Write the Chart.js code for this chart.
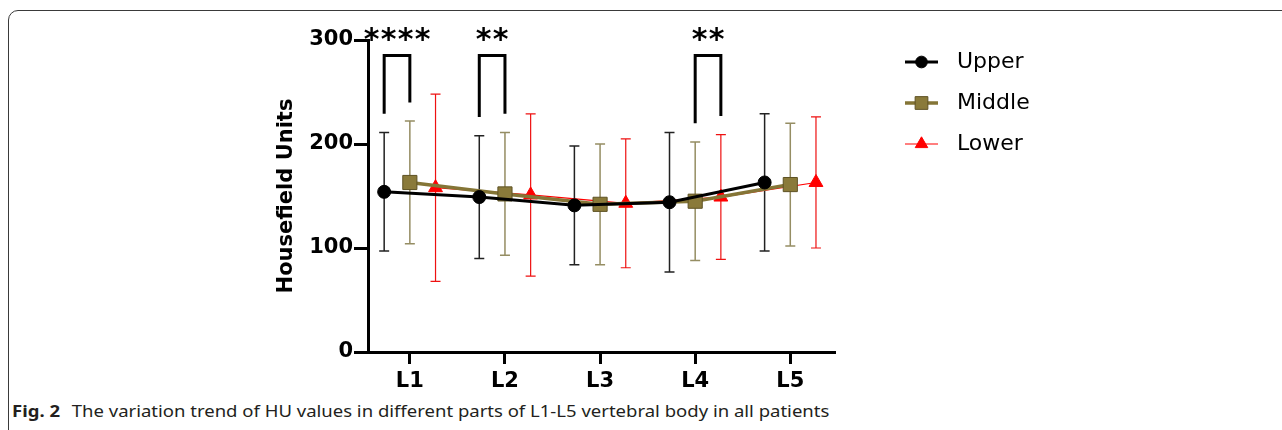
<!DOCTYPE html>
<html>
<head>
<meta charset="utf-8">
<script src="https://cdn.jsdelivr.net/npm/chart.js@4.4.1/dist/chart.umd.min.js"></script>
<style>
  html, body { margin: 0; padding: 0; background: #fff; }
  body { width: 1282px; height: 430px; position: relative; overflow: hidden; }
  #frame { position: absolute; left: 8px; top: 10px; width: 1300px; height: 440px; border: 1px solid #3a3a3a; border-radius: 10px; }
  #chart { position: absolute; left: 0; top: 0; }
  #caption { position: absolute; left: 12px; top: 400px; font-family: "Noto Sans", sans-serif; font-size: 16px; color: #231f20; white-space: nowrap; transform: scaleX(1.157); transform-origin: left center; }
  #caption b { margin-right: 6px; }
</style>
</head>
<body>
<div id="frame"></div>
<canvas id="chart" width="1282" height="400"></canvas>
<div id="caption"><b>Fig. 2</b> The variation trend of HU values in different parts of L1-L5 vertebral body in all patients</div>
<script>
// --- valeurs (moyenne ± écart-type) ---
const vertebrae = ['L1', 'L2', 'L3', 'L4', 'L5'];
const seriesNames = ['Upper', 'Middle', 'Lower'];
const upperMean = [154, 149, 141, 144, 163];
const upperSD = [57, 59, 57, 67, 66];
const middleMean = [163, 152, 142, 145, 161];
const middleSD = [59, 59, 58, 57, 59];
const lowerMean = [158, 151, 143, 149, 163];
const lowerSD = [90, 78, 62, 60, 63];
const yTicks = [0, 100, 200, 300];

// crochets de significativité : vertèbre, groupes comparés, étoiles
const sigCat = [0, 1, 3];
const sigFrom = [0, 0, 1];
const sigTo = [1, 1, 2];
const sigText = ['****', '**', '**'];
const sigTop = 285;

// --- style ---
const FONT = '"DejaVu Sans", sans-serif';
const dodge = [-0.27, 0, 0.27];
const legendX = 905, legendY = 62, legendRow = 41, legendLine = 33, legendTextX = 957;

const toPoints = (means, k) => means.map((v, i) => ({ x: i + 1 + dodge[k], y: v }));

const datasets = [
    {
        label: seriesNames[0], data: toPoints(upperMean, 0), sd: upperSD,
        borderColor: '#000', borderWidth: 3,
        pointStyle: 'circle', pointRadius: 6.5, pointBackgroundColor: '#000', pointBorderColor: '#000', pointBorderWidth: 1,
        errorColor: '#222', errorWidth: 1.5
    },
    {
        label: seriesNames[1], data: toPoints(middleMean, 1), sd: middleSD,
        borderColor: '#847536', borderWidth: 3.5,
        pointStyle: 'rect', pointRadius: 10, pointBackgroundColor: '#8a7a3a', pointBorderColor: '#5e5224', pointBorderWidth: 1,
        errorColor: '#958d63', errorWidth: 1.5
    },
    {
        label: seriesNames[2], data: toPoints(lowerMean, 2), sd: lowerSD,
        borderColor: '#ff0000', borderWidth: 1.2,
        pointStyle: 'triangle', pointRadius: 8, pointBackgroundColor: '#ff0000', pointBorderColor: '#ff0000', pointBorderWidth: 1,
        errorColor: '#ee1111', errorWidth: 1.2
    }
];

// barres d'erreur dessinées sous les lignes et les marqueurs
const errorBars = {
    id: 'errorBars',
    beforeDatasetsDraw(chart) {
        const { ctx, scales: { x, y } } = chart;
        chart.data.datasets.forEach(ds => {
            ctx.save();
            ctx.strokeStyle = ds.errorColor;
            ctx.lineWidth = ds.errorWidth;
            ds.data.forEach((p, i) => {
                const px = x.getPixelForValue(p.x);
                const top = y.getPixelForValue(p.y + ds.sd[i]);
                const bot = y.getPixelForValue(p.y - ds.sd[i]);
                ctx.beginPath();
                ctx.moveTo(px, top); ctx.lineTo(px, bot);
                ctx.moveTo(px - 5, top); ctx.lineTo(px + 5, top);
                ctx.moveTo(px - 5, bot); ctx.lineTo(px + 5, bot);
                ctx.stroke();
            });
            ctx.restore();
        });
    }
};

// crochets + étoiles, puis légende à droite
const annotations = {
    id: 'annotations',
    afterDraw(chart) {
        const { ctx, scales: { x, y } } = chart;
        const sets = chart.data.datasets;
        ctx.save();
        sigCat.forEach((c, j) => {
            const a = sets[sigFrom[j]], b = sets[sigTo[j]];
            const xa = x.getPixelForValue(a.data[c].x);
            const xb = x.getPixelForValue(b.data[c].x);
            const ya = y.getPixelForValue(a.data[c].y + a.sd[c] + 18);
            const yb = y.getPixelForValue(b.data[c].y + b.sd[c] + 18);
            const yt = y.getPixelForValue(sigTop);
            ctx.strokeStyle = '#000';
            ctx.lineWidth = 3;
            ctx.lineJoin = 'miter';
            ctx.beginPath();
            ctx.moveTo(xa, ya); ctx.lineTo(xa, yt); ctx.lineTo(xb, yt); ctx.lineTo(xb, yb);
            ctx.stroke();

            const n = sigText[j].length, step = 17, cx = (xa + xb) / 2;
            ctx.fillStyle = '#000';
            ctx.font = 'bold 30px ' + FONT;
            ctx.textAlign = 'center';
            ctx.textBaseline = 'middle';
            for (let s = 0; s < n; s++) {
                ctx.fillText('*', cx + (s - (n - 1) / 2) * step, yt - 14);
            }
        });

        sets.forEach((ds, k) => {
            const yy = legendY + k * legendRow;
            ctx.strokeStyle = ds.borderColor;
            ctx.lineWidth = ds.borderWidth;
            ctx.beginPath();
            ctx.moveTo(legendX, yy); ctx.lineTo(legendX + legendLine, yy);
            ctx.stroke();
            ctx.fillStyle = ds.pointBackgroundColor;
            ctx.strokeStyle = ds.pointBorderColor;
            ctx.lineWidth = ds.pointBorderWidth;
            Chart.helpers.drawPoint(ctx, {
                pointStyle: ds.pointStyle, radius: ds.pointRadius * 0.9,
                borderWidth: ds.pointBorderWidth, rotation: 0
            }, legendX + legendLine / 2, yy);
            ctx.fillStyle = '#000';
            ctx.font = '22px ' + FONT;
            ctx.textAlign = 'left';
            ctx.textBaseline = 'middle';
            ctx.fillText(ds.label, legendTextX, yy);
        });
        ctx.restore();
    }
};

new Chart(document.getElementById('chart'), {
    type: 'line',
    data: { datasets },
    options: {
        responsive: false,
        animation: false,
        devicePixelRatio: 1,
        layout: { padding: { left: 274, right: 447, top: 40, bottom: 0 } },
        elements: { line: { tension: 0 } },
        plugins: { legend: { display: false }, tooltip: { enabled: false } },
        scales: {
            x: {
                type: 'linear', min: 0.56, max: 5.47,
                afterBuildTicks: s => { s.ticks = vertebrae.map((_, i) => ({ value: i + 1 })); },
                afterFit: s => { s.height = 48; },
                ticks: {
                    callback: v => vertebrae[Math.round(v) - 1],
                    font: { family: FONT, size: 21, weight: 'bold' }, color: '#000',
                    padding: 5, maxRotation: 0, autoSkip: false
                },
                grid: { drawOnChartArea: false, tickLength: 12, tickWidth: 3, tickColor: '#000' },
                border: { color: '#000', width: 3 }
            },
            y: {
                min: 0, max: 300,
                afterBuildTicks: s => { s.ticks = yTicks.map(v => ({ value: v })); },
                afterFit: s => { s.width = 94; },
                ticks: { font: { family: FONT, size: 21, weight: 'bold' }, color: '#000', padding: 1 },
                grid: { drawOnChartArea: false, tickLength: 14, tickWidth: 3, tickColor: '#000' },
                border: { color: '#000', width: 3 },
                title: {
                    display: true, text: 'Housefield Units', color: '#000', padding: 0,
                    font: { family: FONT, size: 21, weight: 'bold' }
                }
            }
        }
    },
    plugins: [errorBars, annotations]
});
</script>
</body>
</html>
